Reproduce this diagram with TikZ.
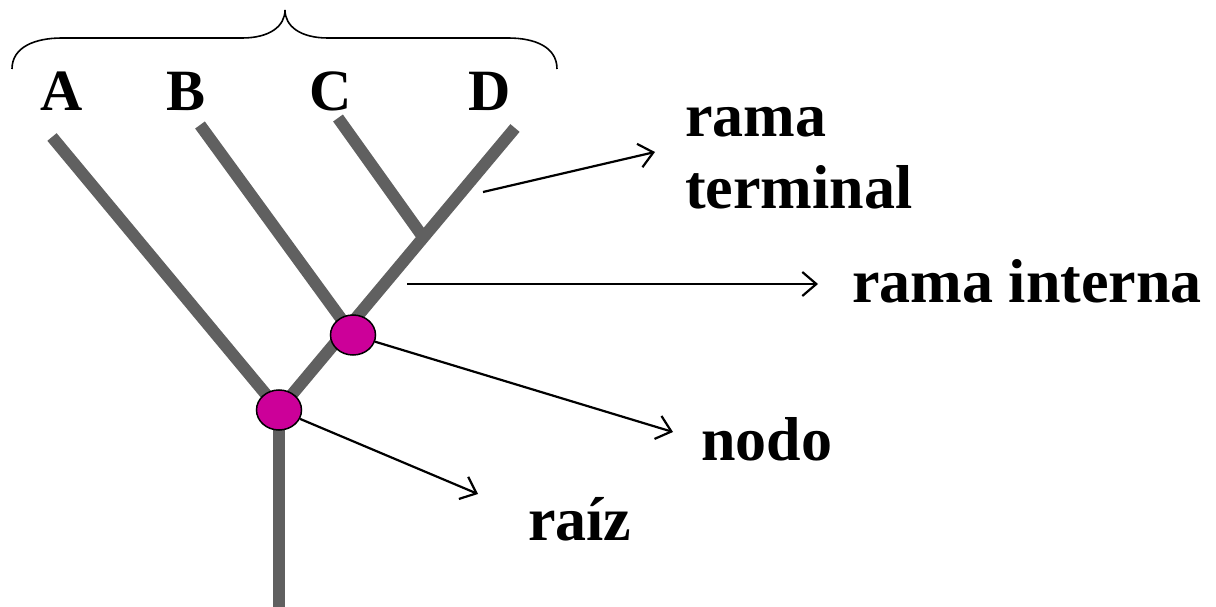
\documentclass[tikz,border=0pt]{standalone}
\usepackage{fontspec}
\setmainfont{Liberation Serif}
\usetikzlibrary{shapes.geometric,arrows.meta}
\definecolor{branch}{HTML}{606060}
\definecolor{nodefill}{HTML}{CC0099}
\begin{document}
\begin{tikzpicture}[x=1pt,y=-1pt,
  branchline/.style={draw=branch,line width=12pt},
  pointer/.style={draw=black,line width=2.2pt,-{Straight Barb[length=14pt,width=24pt,line width=2.2pt]}},
  treenode/.style={ellipse,draw=black,line width=1.5pt,fill=nodefill,minimum width=45pt,minimum height=40pt,inner sep=0pt},
  lbl/.style={font=\fontsize{62}{72}\selectfont\bfseries,inner sep=0pt,anchor=base west},
  leaf/.style={font=\fontsize{58.5}{70}\selectfont\bfseries,inner sep=0pt,anchor=base}]
\useasboundingbox (0,0) rectangle (1216,607);
% brace
\draw[line width=1.6pt] (12,69) .. controls (12,47) and (35,38) .. (62,38) -- (242,38)
  .. controls (270,38) and (285,26) .. (285,10)
  .. controls (285,26) and (300,38) .. (328,38) -- (508,38)
  .. controls (535,38) and (557,47) .. (557,69);
% leaf labels
\node[leaf] (lA) at (62,111) {A};
\node[leaf] (lB) at (186,111) {B};
\node[leaf] (lC) at (331,111) {C};
\node[leaf] (lD) at (490,111) {D};
% coordinates
\coordinate (tA) at (52,137);
\coordinate (tB) at (200,125);
\coordinate (tC) at (338,118);
\coordinate (tD) at (515,128);
\coordinate (cd) at (423,237);
\coordinate (n1c) at (279,410);
\coordinate (n2c) at (353,335);
\coordinate (rootend) at (279,607);
% branches
\draw[branchline] (rootend) -- (n1c);
\draw[branchline] (tA) -- (n1c);
\draw[branchline] (n1c) -- (tD);
\draw[branchline] (tB) -- (n2c);
\draw[branchline] (tC) -- (cd);
% nodes
\node[treenode] (n1) at (n1c) {};
\node[treenode] (n2) at (n2c) {};
% labels
\node[lbl] (rama1) at (685,137) {rama};
\node[lbl] (term) at (685,208) {terminal};
\node[lbl] (interna) at (852,302) {rama interna};
\node[lbl] (nodo) at (701,460) {nodo};
\node[lbl] (raiz) at (528,540) {raíz};
% arrows
\coordinate (a1s) at (483,192);
\coordinate (a1e) at (655,152);
\coordinate (a2s) at (407,284);
\coordinate (a2e) at (818,284);
\coordinate (a3e) at (673,432);
\coordinate (a4e) at (478,494);
\draw[pointer] (a1s) -- (a1e);
\draw[pointer] (a2s) -- (a2e);
\draw[pointer] (n2) -- (a3e);
\draw[pointer] (n1) -- (a4e);
\end{tikzpicture}
\end{document}
